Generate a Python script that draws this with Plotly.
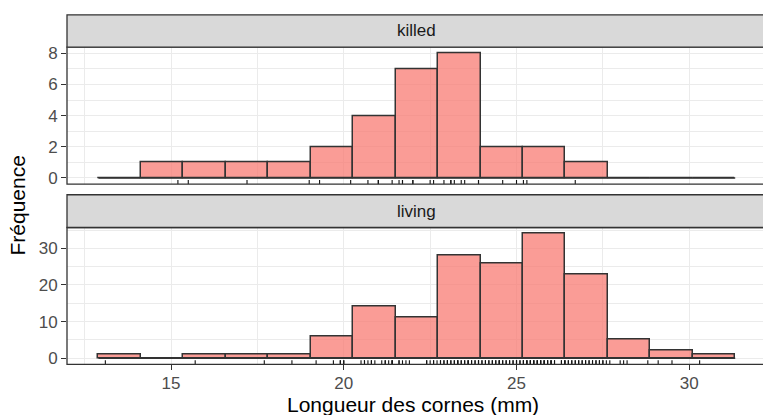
import plotly.graph_objects as go

# ---------------- data ----------------
groups = ["killed", "living"]
bin_edges = [12.9, 14.13, 15.36, 16.59, 17.81, 19.04, 20.27, 21.5, 22.73,
             23.96, 25.19, 26.41, 27.64, 28.87, 30.1, 31.33]
killed_counts = [0, 1, 1, 1, 1, 2, 4, 7, 8, 2, 2, 1, 0, 0, 0]
living_counts = [1, 0, 1, 1, 1, 6, 14, 11, 28, 26, 34, 23, 5, 2, 1]

killed_horn = [15.2, 15.5, 17.2, 19.0, 19.3, 20.2, 20.7, 21.0, 21.0, 21.4,
               21.6, 21.7, 21.7, 22.0, 22.0, 22.5, 22.6, 22.9, 23.1, 23.1,
               23.2, 23.4, 23.5, 23.9, 23.9, 24.6, 25.0, 25.2, 25.3, 26.7]
living_horn = [13.1, 15.7, 17.7, 18.5,
               19.2, 19.7, 19.9, 19.9, 20.0, 20.0,
               20.5, 20.6, 20.6, 20.7, 20.8, 20.8, 20.9, 21.1, 21.2, 21.2,
               21.3, 21.4, 21.4, 21.4,
               21.6, 21.6, 21.7, 21.8, 21.9, 22.4, 22.4, 22.5, 22.6, 22.6, 22.7,
               22.8, 22.8, 22.9, 22.9, 23.0, 23.0, 23.0, 23.1, 23.1, 23.2,
               23.2, 23.3, 23.3, 23.3, 23.4, 23.4, 23.5, 23.5, 23.6, 23.6,
               23.6, 23.7, 23.7, 23.8, 23.8, 23.9, 23.9, 23.9,
               24.0, 24.0, 24.1, 24.1, 24.2, 24.2, 24.3, 24.3, 24.4, 24.4,
               24.5, 24.5, 24.5, 24.6, 24.6, 24.7, 24.7, 24.8, 24.8, 24.9,
               24.9, 25.0, 25.0, 25.0, 25.1, 25.1,
               25.2, 25.2, 25.2, 25.3, 25.3, 25.3, 25.4, 25.4, 25.4, 25.5,
               25.5, 25.5, 25.6, 25.6, 25.6, 25.7, 25.7, 25.7, 25.8, 25.8,
               25.8, 25.9, 25.9, 25.9, 26.0, 26.0, 26.0, 26.1, 26.1, 26.3,
               26.3, 26.4, 26.4, 26.4,
               26.5, 26.5, 26.6, 26.6, 26.7, 26.7, 26.8, 26.8, 26.9, 26.9,
               27.0, 27.0, 27.1, 27.1, 27.2, 27.2, 27.3, 27.3, 27.4, 27.4,
               27.5, 27.5, 27.6,
               27.7, 28.0, 28.1, 28.2, 28.8,
               29.1, 29.5, 30.3]
x_ticks = [15, 20, 25, 30]

# ---------------- styling ----------------
W, H = 763, 418
FONT = "Liberation Sans, Arial, Helvetica, sans-serif"
FILL = "rgba(248,118,109,0.72)"
EDGE = "#333333"
GRID = "#EBEBEB"
x_range = [11.99, 32.134]
y_ranges = {"killed": [-0.4, 8.4], "living": [-1.7, 35.7]}
panel_px = {"killed": (44.9, 184.3), "living": (228.3, 367.6)}
strip_px = {"killed": (12.0, 44.9), "living": (195.0, 228.3)}
x_left_px = 67.0

def py(p):
    return (H - p) / H

centers = [(a + b) / 2 for a, b in zip(bin_edges[:-1], bin_edges[1:])]
widths = [b - a for a, b in zip(bin_edges[:-1], bin_edges[1:])]

fig = go.Figure()

data = {"killed": (killed_counts, killed_horn), "living": (living_counts, living_horn)}
axis_ids = {"killed": ("x2", "y2"), "living": ("x", "y")}

for g in groups:
    counts, raw = data[g]
    xa, ya = axis_ids[g]
    # baseline (zero-height bins drawn as a flat outline)
    fig.add_trace(go.Scatter(x=[bin_edges[0], bin_edges[-1]], y=[0, 0], mode="lines",
                             line=dict(color=EDGE, width=1.5), xaxis=xa, yaxis=ya,
                             showlegend=False, hoverinfo="skip"))
    fig.add_trace(go.Bar(x=centers, y=counts, width=widths, xaxis=xa, yaxis=ya,
                         marker=dict(color=FILL, line=dict(color=EDGE, width=1.5)),
                         showlegend=False))
    lo, hi = y_ranges[g]
    rl = lo + 0.03 * (hi - lo)
    rx, ry = [], []
    for v in raw:
        rx += [v, v, None]
        ry += [lo, rl, None]
    fig.add_trace(go.Scatter(x=rx, y=ry, mode="lines", line=dict(color="#111111", width=1.1),
                             xaxis=xa, yaxis=ya, showlegend=False, hoverinfo="skip",
                             cliponaxis=False))

xdom = [x_left_px / W, 1.0]
common_x = dict(range=x_range, domain=xdom, showgrid=True, gridcolor=GRID, gridwidth=1.1,
                zeroline=False, tickvals=x_ticks,
                minor=dict(tickvals=[12.5, 17.5, 22.5, 27.5], showgrid=True,
                           gridcolor=GRID, gridwidth=0.55, ticks=""),
                showline=False)
fig.update_layout(
    width=W, height=H, margin=dict(l=0, r=0, t=0, b=0),
    paper_bgcolor="white", plot_bgcolor="white", bargap=0, barmode="overlay",
    font=dict(family=FONT),
    xaxis=dict(**common_x, anchor="y", ticks="outside", ticklen=5, tickwidth=1.1,
               tickcolor=EDGE, ticklabelstandoff=-2,
               tickfont=dict(size=17, color="#4D4D4D", family=FONT)),
    xaxis2=dict(**common_x, anchor="y2", showticklabels=False, ticks=""),
    yaxis=dict(range=y_ranges["living"], domain=[py(panel_px["living"][1]), py(panel_px["living"][0])],
               tickvals=[0, 10, 20, 30], showgrid=True, gridcolor=GRID, gridwidth=1.1, zeroline=False,
               minor=dict(tickvals=[5, 15, 25, 35], showgrid=True, gridcolor=GRID, gridwidth=0.55, ticks=""),
               ticks="outside", ticklen=5, tickwidth=1.1, tickcolor=EDGE, anchor="x",
               tickfont=dict(size=17, color="#4D4D4D", family=FONT)),
    yaxis2=dict(range=y_ranges["killed"], domain=[py(panel_px["killed"][1]), py(panel_px["killed"][0])],
                tickvals=[0, 2, 4, 6, 8], showgrid=True, gridcolor=GRID, gridwidth=1.1, zeroline=False,
                minor=dict(tickvals=[1, 3, 5, 7], showgrid=True, gridcolor=GRID, gridwidth=0.55, ticks=""),
                ticks="outside", ticklen=5, tickwidth=1.1, tickcolor=EDGE, anchor="x2",
                tickfont=dict(size=17, color="#4D4D4D", family=FONT)),
)

shapes = []
annotations = []
panel_center_px = (x_left_px + 767.0) / 2
for g in groups:
    t, b = panel_px[g]
    shapes.append(dict(type="rect", xref="paper", yref="paper", x0=x_left_px / W, x1=1.02,
                       y0=py(b), y1=py(t), line=dict(color=EDGE, width=1.3),
                       fillcolor="rgba(0,0,0,0)", layer="above"))
    st, sb = strip_px[g]
    shapes.append(dict(type="rect", xref="paper", yref="paper", x0=x_left_px / W, x1=1.02,
                       y0=py(sb), y1=py(st), line=dict(color=EDGE, width=1.3),
                       fillcolor="#D9D9D9", layer="above"))
    annotations.append(dict(text=g, xref="paper", yref="paper", x=panel_center_px / W,
                            y=py((st + sb) / 2), showarrow=False, xanchor="center", yanchor="middle",
                            font=dict(size=17, color="#1A1A1A", family=FONT)))

annotations.append(dict(text="Longueur des cornes (mm)", xref="paper", yref="paper",
                        x=413 / W, y=py(407.5), showarrow=False,
                        xanchor="center", yanchor="middle", height=22,
                        font=dict(size=21, color="black", family=FONT)))
annotations.append(dict(text="Fréquence", xref="paper", yref="paper",
                        x=18 / W, y=py(206), showarrow=False, textangle=-90,
                        xanchor="center", yanchor="middle",
                        font=dict(size=21, color="black", family=FONT)))
fig.update_layout(shapes=shapes, annotations=annotations)

fig.write_html("out.html")
